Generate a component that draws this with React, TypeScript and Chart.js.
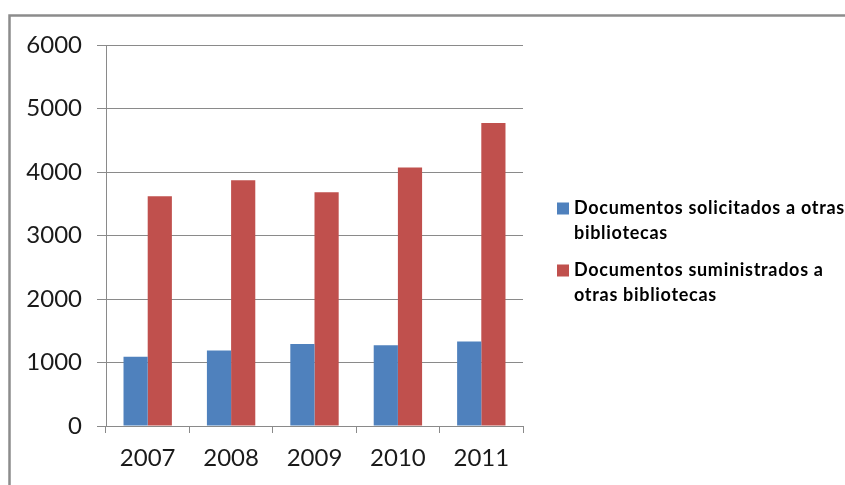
import { useEffect, useRef } from 'react';
import { Chart, registerables } from 'chart.js';

Chart.register(...registerables);

const categories = ['2007', '2008', '2009', '2010', '2011'];
const solicitados = [1090, 1190, 1290, 1270, 1330];
const suministrados = [3620, 3870, 3680, 4070, 4770];
const seriesNames = [
  'Documentos solicitados a otras bibliotecas',
  'Documentos suministrados a otras bibliotecas',
];
const legendLines = [
  ['Documentos solicitados a otras', 'bibliotecas'],
  ['Documentos suministrados a', 'otras bibliotecas'],
];
const yMin = 0;
const yMax = 6000;
const yStep = 1000;

const BLUE = '#4F81BD';
const RED = '#C0504D';
const GRID = '#8a8a8a';
const FONT = 'Lato, "Open Sans", sans-serif';

const W = 845;
const H = 485;

const framePlugin = {
  id: 'frame',
  beforeDraw(chart: any) {
    const ctx = chart.ctx;
    ctx.save();
    ctx.fillStyle = '#ffffff';
    ctx.fillRect(0, 0, chart.width, chart.height);
    ctx.strokeStyle = '#8c8c8c';
    ctx.lineWidth = 2.5;
    ctx.beginPath();
    ctx.moveTo(9.5, chart.height + 2);
    ctx.lineTo(9.5, 15.5);
    ctx.lineTo(chart.width + 2, 15.5);
    ctx.stroke();
    ctx.restore();
  },
};

const legendPlugin = {
  id: 'sideLegend',
  afterDraw(chart: any) {
    const ctx = chart.ctx;
    const area = chart.chartArea;
    ctx.save();
    ctx.font = `bold 18px ${FONT}`;
    ctx.textBaseline = 'alphabetic';
    ctx.textAlign = 'left';
    try {
      (ctx as any).letterSpacing = '0.7px';
    } catch (e) {
      /* ignore */
    }
    chart.data.datasets.forEach((ds: any, i: number) => {
      const lines = legendLines[i];
      const base = 213.5 + i * 62;
      const boxX = area.right + 34;
      ctx.fillStyle = ds.backgroundColor;
      ctx.fillRect(boxX, base - 11, 12, 12);
      ctx.fillStyle = '#000000';
      lines.forEach((l: string, j: number) => {
        ctx.fillText(l, boxX + 17, base + j * 25);
      });
    });
    ctx.restore();
  },
};

export default function App() {
  const ref = useRef<HTMLCanvasElement | null>(null);

  useEffect(() => {
    if (!ref.current) return;
    const chart = new Chart(ref.current, {
      type: 'bar',
      data: {
        labels: categories,
        datasets: [
          {
            label: seriesNames[0],
            data: solicitados,
            backgroundColor: BLUE,
            barPercentage: 1,
            categoryPercentage: 0.58,
          },
          {
            label: seriesNames[1],
            data: suministrados,
            backgroundColor: RED,
            barPercentage: 1,
            categoryPercentage: 0.58,
          },
        ],
      },
      options: {
        responsive: false,
        animation: false,
        devicePixelRatio: 1,
        layout: { padding: { left: 0, right: W - 523, top: 45, bottom: 0 } },
        plugins: {
          legend: { display: false },
          tooltip: { enabled: false },
        },
        scales: {
          x: {
            grid: {
              display: true,
              drawOnChartArea: false,
              drawTicks: true,
              tickLength: 7,
              color: GRID,
              offset: true,
            },
            border: { display: true, color: GRID, width: 1 },
            ticks: {
              color: '#1a1a1a',
              font: { family: FONT, size: 24 },
              padding: 11,
            },
            afterFit: (scale: any) => {
              scale.height = H - 426;
            },
          },
          y: {
            min: yMin,
            max: yMax,
            grid: {
              color: GRID,
              drawTicks: true,
              tickLength: 9,
            },
            border: { display: true, color: GRID, width: 1 },
            ticks: {
              stepSize: yStep,
              color: '#1a1a1a',
              font: { family: FONT, size: 24 },
              padding: 15,
              callback: (v: any) => String(v),
            },
            afterFit: (scale: any) => {
              scale.width = 106;
            },
          },
        },
      },
      plugins: [framePlugin, legendPlugin],
    });
    return () => chart.destroy();
  }, []);

  return (
    <div style={{ position: 'fixed', left: 0, top: 0, width: W, height: H, background: '#fff' }}>
      <canvas ref={ref} width={W} height={H} style={{ display: 'block' }} />
    </div>
  );
}
